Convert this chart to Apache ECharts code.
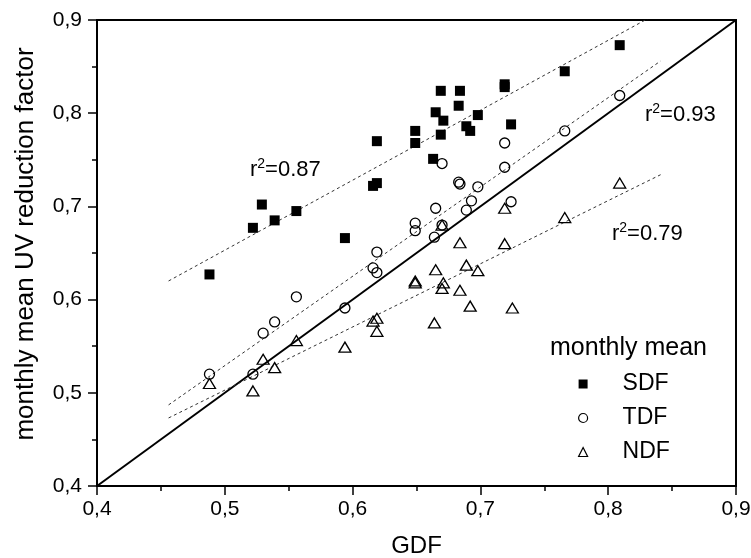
<!DOCTYPE html>
<html>
<head>
<meta charset="utf-8">
<script src="https://cdn.jsdelivr.net/npm/echarts@6/dist/echarts.min.js"></script>
<style>html,body{margin:0;padding:0;background:#fff}#c{width:751px;height:558px}</style>
</head>
<body>
<div id="c"></div>
<script>
// ---- data (GDF, monthly mean UV reduction factor) ----
const sdfPoints = [[0.488,0.627],[0.522,0.677],[0.529,0.702],[0.539,0.685],[0.556,0.695],[0.594,0.666],[0.616,0.722],[0.619,0.725],[0.619,0.770],[0.649,0.781],[0.649,0.768],[0.663,0.751],[0.665,0.801],[0.669,0.824],[0.669,0.777],[0.671,0.792],[0.683,0.808],[0.684,0.824],[0.689,0.786],[0.692,0.781],[0.698,0.798],[0.719,0.831],[0.719,0.828],[0.724,0.788],[0.766,0.845],[0.809,0.873]];
const tdfPoints = [[0.488,0.520],[0.522,0.520],[0.530,0.564],[0.539,0.576],[0.556,0.603],[0.594,0.591],[0.616,0.634],[0.619,0.651],[0.619,0.629],[0.649,0.682],[0.649,0.674],[0.664,0.667],[0.665,0.698],[0.670,0.680],[0.670,0.746],[0.683,0.726],[0.684,0.724],[0.689,0.696],[0.693,0.706],[0.698,0.721],[0.719,0.768],[0.719,0.742],[0.724,0.705],[0.766,0.781],[0.809,0.819]];
const ndfPoints = [[0.488,0.510],[0.522,0.502],[0.530,0.536],[0.539,0.527],[0.556,0.556],[0.594,0.549],[0.616,0.577],[0.619,0.580],[0.619,0.566],[0.649,0.620],[0.649,0.618],[0.664,0.575],[0.665,0.632],[0.670,0.680],[0.671,0.618],[0.670,0.612],[0.684,0.661],[0.684,0.610],[0.689,0.637],[0.692,0.593],[0.698,0.631],[0.719,0.698],[0.719,0.660],[0.725,0.591],[0.766,0.688],[0.809,0.725]];
const sdfFit = [[0.456,0.620],[0.841,0.909]];
const tdfFit = [[0.456,0.487],[0.841,0.856]];
const ndfFit = [[0.456,0.473],[0.841,0.734]];
const oneToOne = [[0.4,0.4],[0.9,0.9]];
const seriesNames = ['SDF','TDF','NDF'];
const r2Labels = ['0.87','0.93','0.79'];
const xTitle = 'GDF';
const yTitle = 'monthly mean UV reduction factor';
const legendTitle = 'monthly mean';

const FONT = '"Liberation Sans", Arial, sans-serif';
const fmt = v => v.toFixed(1).replace('.', ',');

const axisCommon = {
  min: 0.4, max: 0.9, interval: 0.1,
  axisLine: {show: true, onZero: false, lineStyle: {color: '#000', width: 2}},
  axisTick: {show: true, inside: false, length: 9, lineStyle: {color: '#000', width: 1.5}},
  minorTick: {show: true, splitNumber: 2, length: 5, lineStyle: {color: '#000', width: 1.5}},
  splitLine: {show: false},
  nameLocation: 'middle'
};

const fitStyle = {color: '#333', width: 1, type: [3, 3]};
const r2Rich = {
  a: {fontSize: 22, lineHeight: 26, fontFamily: FONT, color: '#000'},
  s: {fontSize: 14, lineHeight: 14, fontFamily: FONT, color: '#000', verticalAlign: 'top'}
};
const r2Text = (val, left, top) => ({
  type: 'text', left: left, top: top,
  style: {text: '{a|r}{s|2}{a|=' + val + '}', rich: r2Rich}
});

const option = {
  backgroundColor: '#fff',
  animation: false,
  grid: {left: 97, right: 15, top: 20, bottom: 72, show: true, borderColor: '#000', borderWidth: 2,
         backgroundColor: 'transparent', containLabel: false, outerBoundsMode: 'none'},
  xAxis: Object.assign({}, axisCommon, {
    type: 'value', name: xTitle, nameGap: 48,
    axisLabel: {color: '#000', fontSize: 21, fontFamily: FONT, formatter: fmt, margin: 13},
    nameTextStyle: {color: '#000', fontSize: 24, fontFamily: FONT}
  }),
  yAxis: Object.assign({}, axisCommon, {
    type: 'value', name: yTitle, nameGap: 58,
    axisLabel: {color: '#000', fontSize: 21, fontFamily: FONT, formatter: fmt, margin: 15},
    nameTextStyle: {color: '#000', fontSize: 26, fontFamily: FONT, padding: [0, 0, 0, 18]}
  }),
  legend: {
    orient: 'vertical', left: 578, top: 372, padding: 0,
    itemWidth: 9, itemHeight: 9, itemGap: 10,
    textStyle: {fontSize: 23, fontFamily: FONT, color: '#000', lineHeight: 24, padding: [0, 0, 0, 30]},
    data: [
      {name: seriesNames[0], icon: 'rect', itemStyle: {color: '#000', borderWidth: 0}},
      {name: seriesNames[1], icon: 'circle', itemStyle: {color: '#fff', borderColor: '#000', borderWidth: 1.2}},
      {name: seriesNames[2], icon: 'triangle', itemStyle: {color: '#fff', borderColor: '#000', borderWidth: 1.2}}
    ]
  },
  graphic: [
    {type: 'text', left: 550, top: 336, style: {text: legendTitle, fontSize: 25, fontFamily: FONT, fill: '#000'}},
    r2Text(r2Labels[0], 250, 157),
    r2Text(r2Labels[1], 645, 102),
    r2Text(r2Labels[2], 612, 221)
  ],
  series: [
    {type: 'line', data: oneToOne, symbol: 'none', silent: true, lineStyle: {color: '#000', width: 2}, z: 2},
    {type: 'line', data: sdfFit, symbol: 'none', silent: true, clip: true, lineStyle: fitStyle, z: 2},
    {type: 'line', data: tdfFit, symbol: 'none', silent: true, clip: true, lineStyle: fitStyle, z: 2},
    {type: 'line', data: ndfFit, symbol: 'none', silent: true, clip: true, lineStyle: fitStyle, z: 2},
    {type: 'scatter', name: seriesNames[0], data: sdfPoints, symbol: 'rect', symbolSize: 10,
     itemStyle: {color: '#000', opacity: 1}, z: 5},
    {type: 'scatter', name: seriesNames[1], data: tdfPoints, symbol: 'circle', symbolSize: 10,
     itemStyle: {color: 'rgba(255,255,255,0)', borderColor: '#000', borderWidth: 1.3, opacity: 1}, z: 4},
    {type: 'scatter', name: seriesNames[2], data: ndfPoints, symbol: 'triangle', symbolSize: [12, 10],
     itemStyle: {color: 'rgba(255,255,255,0)', borderColor: '#000', borderWidth: 1.3, opacity: 1}, z: 3}
  ]
};

const chart = echarts.init(document.getElementById('c'), null, {renderer: 'canvas'});
chart.setOption(option);
</script>
</body>
</html>
